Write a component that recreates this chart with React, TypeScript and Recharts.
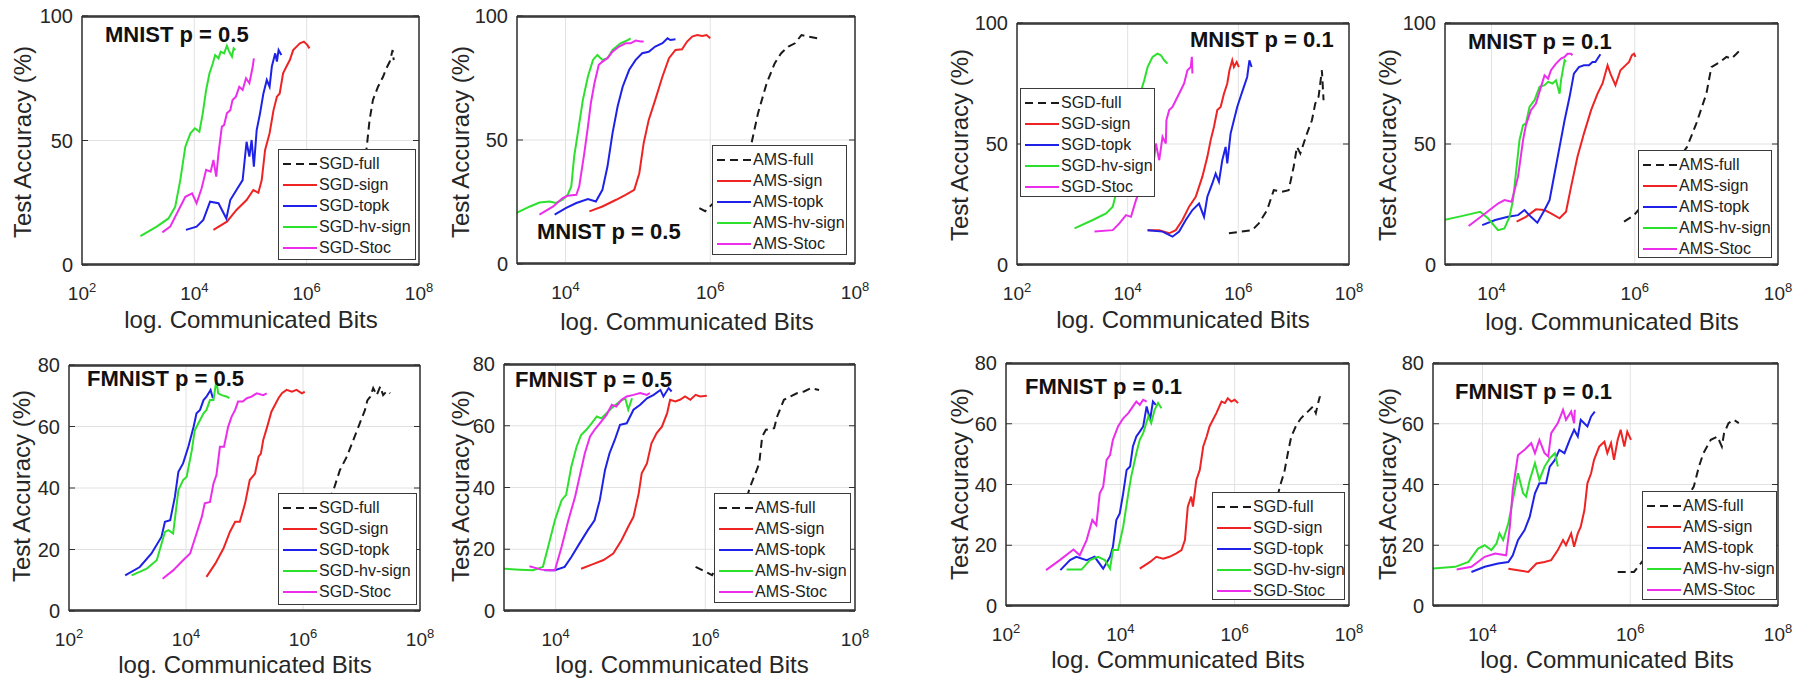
import React from 'react';
import { LineChart, Line, XAxis, YAxis, CartesianGrid, Legend } from 'recharts';

type Pt = [number, number];

// x values are log10(communicated bits), y values are test accuracy (%)

// ---- MNIST p = 0.5, SGD ----
const p1Full: Pt[] = [[7.05,44],[7.07,47.5],[7.12,58.2],[7.18,66.3],[7.27,71.6],[7.36,75.6],[7.42,79.0],[7.48,81.7],[7.53,86.3],[7.55,82.3]];
const p1Sign: Pt[] = [[4.34,14.1],[4.58,17.4],[4.75,22.1],[4.93,26.1],[5.05,30.1],[5.14,29.0],[5.20,34.1],[5.26,46.2],[5.34,52.9],[5.41,62.2],[5.47,67.6],[5.52,68.9],[5.58,77.0],[5.64,79.7],[5.70,82.3],[5.76,86.3],[5.82,87.7],[5.88,89.0],[5.95,89.7],[6.01,88.4],[6.05,87.0]];
const p1Topk: Pt[] = [[3.85,14.1],[4.04,15.4],[4.16,18.1],[4.28,25.4],[4.43,24.8],[4.57,18.7],[4.64,26.1],[4.75,30.1],[4.86,34.1],[4.93,49.5],[4.98,43.5],[5.02,50.2],[5.06,39.5],[5.11,54.2],[5.17,60.9],[5.23,68.9],[5.29,74.3],[5.34,71.6],[5.38,79.7],[5.44,85.0],[5.47,81.7],[5.50,86.3],[5.55,84.3]];
const p1Hv: Pt[] = [[3.04,11.6],[3.33,15.4],[3.54,18.7],[3.66,23.4],[3.75,34.1],[3.84,47.5],[3.93,52.9],[4.01,54.9],[4.09,53.5],[4.15,60.9],[4.21,70.3],[4.27,77.0],[4.33,81.0],[4.37,84.3],[4.43,83.0],[4.47,85.7],[4.53,85.0],[4.58,88.0],[4.62,85.7],[4.67,83.7],[4.70,87.0],[4.73,86.3]];
const p1Stoc: Pt[] = [[3.43,13.1],[3.57,15.4],[3.72,22.1],[3.84,27.4],[3.96,28.8],[4.04,24.8],[4.13,30.8],[4.21,38.2],[4.29,37.5],[4.34,42.2],[4.39,35.5],[4.43,44.8],[4.49,55.6],[4.53,56.2],[4.58,60.9],[4.64,62.2],[4.68,66.3],[4.74,67.6],[4.80,71.6],[4.86,70.3],[4.92,75.0],[4.98,73.0],[5.04,79.7],[5.06,83.0]];

// ---- MNIST p = 0.5, AMS ----
const p2Full: Pt[] = [[5.85,22.5],[5.93,21.3],[6.3,32],[6.57,48.7],[6.66,60.8],[6.78,72.9],[6.89,80.9],[6.98,85.0],[7.08,87.7],[7.17,89.0],[7.26,92.3],[7.35,91.7],[7.49,91.0]];
const p2Sign: Pt[] = [[4.33,21.2],[4.51,23.2],[4.70,25.9],[4.83,27.9],[4.95,29.9],[5.02,36.6],[5.08,48.7],[5.15,58.1],[5.24,66.2],[5.34,75.6],[5.43,83.0],[5.52,86.3],[5.61,86.6],[5.68,89.7],[5.75,91.7],[5.82,92.3],[5.89,91.9],[5.95,92.3],[6.00,91.0]];
const p2Topk: Pt[] = [[3.85,19.9],[4.01,22.6],[4.15,24.6],[4.31,26.2],[4.42,25.2],[4.51,29.9],[4.58,39.3],[4.65,52.8],[4.72,63.5],[4.79,71.5],[4.88,78.3],[4.97,82.3],[5.06,85.0],[5.15,85.6],[5.24,87.7],[5.34,89.0],[5.41,91.0],[5.45,90.3],[5.52,90.6]];
const p2Hv: Pt[] = [[3.30,20.3],[3.51,23.2],[3.64,24.8],[3.78,25.2],[3.87,24.6],[3.96,25.9],[4.03,27.9],[4.08,31.3],[4.12,43.4],[4.17,52.8],[4.24,66.2],[4.31,75.6],[4.38,82.3],[4.44,84.3],[4.51,82.3],[4.58,83.0],[4.65,86.3],[4.76,89.0],[4.86,90.3],[4.90,91.0]];
const p2Stoc: Pt[] = [[3.64,19.9],[3.83,23.2],[3.96,26.6],[4.03,27.5],[4.15,27.9],[4.19,31.3],[4.26,44.7],[4.31,55.4],[4.35,64.8],[4.40,72.9],[4.46,80.3],[4.51,81.6],[4.58,83.0],[4.65,85.6],[4.74,87.7],[4.83,89.0],[4.90,89.0],[4.97,90.1],[5.04,89.7],[5.08,89.7]];

// ---- MNIST p = 0.1, SGD ----
const p3Full: Pt[] = [[5.83,13.1],[6.25,14.4],[6.37,17.2],[6.52,22.7],[6.64,30.9],[6.79,30.3],[6.91,30.9],[7.00,40.6],[7.06,48.8],[7.12,46.1],[7.18,50.2],[7.24,54.3],[7.33,59.8],[7.39,66.7],[7.45,69.5],[7.48,75.0],[7.51,80.5],[7.54,68.1]];
const p3Sign: Pt[] = [[4.36,14.4],[4.57,14.4],[4.75,13.1],[4.87,14.4],[4.99,18.6],[5.11,24.1],[5.23,28.2],[5.35,36.5],[5.44,44.7],[5.50,51.6],[5.56,57.1],[5.62,64.0],[5.68,65.3],[5.74,70.8],[5.80,75.0],[5.84,80.5],[5.89,84.6],[5.92,81.8],[5.97,83.9],[6.01,81.8]];
const p3Topk: Pt[] = [[4.36,14.4],[4.63,13.8],[4.81,11.7],[4.93,13.8],[5.05,18.6],[5.17,22.7],[5.29,25.4],[5.38,19.9],[5.44,28.2],[5.53,33.7],[5.59,37.8],[5.65,34.4],[5.71,43.3],[5.77,48.8],[5.80,42.0],[5.86,54.3],[5.92,59.8],[5.98,65.3],[6.04,69.5],[6.10,73.6],[6.16,77.7],[6.20,84.6],[6.24,81.8]];
const p3Hv: Pt[] = [[3.04,15.1],[3.37,18.6],[3.61,21.3],[3.73,24.1],[3.79,29.6],[3.91,40.6],[4.03,54.3],[4.15,65.3],[4.30,76.3],[4.36,81.8],[4.45,86.0],[4.54,87.3],[4.60,86.7],[4.66,84.6],[4.72,83.2]];
const p3Stoc: Pt[] = [[3.40,13.8],[3.73,14.4],[3.85,17.2],[3.97,20.6],[4.06,19.9],[4.15,26.8],[4.24,32.3],[4.33,35.1],[4.40,44.7],[4.46,40.6],[4.51,50.2],[4.57,43.3],[4.63,53.0],[4.69,50.2],[4.70,59.8],[4.75,64.0],[4.81,65.3],[4.87,68.1],[4.96,72.2],[5.02,75.0],[5.08,80.5],[5.14,81.8],[5.16,86.0],[5.17,79.1]];

// ---- MNIST p = 0.1, AMS ----
const p4Full: Pt[] = [[5.85,17.9],[5.99,20.6],[6.4,35],[6.73,48.8],[6.86,58.5],[7.00,70.8],[7.07,81.8],[7.19,83.9],[7.28,86.0],[7.35,85.3],[7.42,87.3],[7.49,89.4]];
const p4Sign: Pt[] = [[4.35,17.9],[4.48,19.9],[4.62,23.0],[4.74,22.7],[4.83,21.3],[4.95,19.3],[5.04,22.0],[5.11,32.3],[5.20,44.7],[5.29,54.3],[5.39,64.0],[5.48,70.8],[5.55,75.0],[5.62,82.5],[5.66,79.1],[5.73,74.3],[5.80,80.5],[5.87,82.5],[5.92,83.9],[5.96,86.7],[5.99,87.3],[6.01,86.0]];
const p4Topk: Pt[] = [[3.87,16.5],[4.05,18.6],[4.23,19.9],[4.37,20.6],[4.46,22.7],[4.55,19.9],[4.64,17.5],[4.74,22.7],[4.81,26.8],[4.88,37.8],[4.95,48.8],[5.02,59.8],[5.09,69.5],[5.15,79.1],[5.22,81.8],[5.29,82.5],[5.36,82.5],[5.41,83.9],[5.45,83.9],[5.52,87.1]];
const p4Hv: Pt[] = [[3.30,18.4],[3.58,20.2],[3.84,22.0],[3.95,19.3],[4.09,14.4],[4.18,15.1],[4.25,19.9],[4.30,26.8],[4.35,40.6],[4.39,51.6],[4.44,57.8],[4.48,58.5],[4.53,65.3],[4.60,68.1],[4.67,73.6],[4.74,74.3],[4.79,75.7],[4.85,75.0],[4.90,76.3],[4.95,70.8],[4.97,76.3],[5.02,84.6],[5.04,83.9]];
const p4Stoc: Pt[] = [[3.68,16.1],[3.91,21.3],[4.09,25.4],[4.18,26.8],[4.28,26.1],[4.37,36.5],[4.44,51.6],[4.48,57.8],[4.55,64.0],[4.62,66.7],[4.69,73.6],[4.74,78.4],[4.79,77.0],[4.83,80.5],[4.90,83.2],[4.97,85.3],[5.02,86.0],[5.06,87.3],[5.11,87.3],[5.13,86.7]];

// ---- FMNIST p = 0.5, SGD ----
const p5Full: Pt[] = [[6.45,36],[6.52,39.3],[6.63,45.8],[6.75,50.2],[6.86,55.6],[6.97,61.0],[7.06,65.4],[7.10,68.5],[7.15,69.7],[7.20,72.5],[7.26,70.2],[7.32,73.0],[7.37,70.2],[7.43,71.5],[7.49,70.8]];
const p5Sign: Pt[] = [[4.35,11.1],[4.50,15.4],[4.64,20.3],[4.75,25.7],[4.84,29.0],[4.92,29.0],[5.01,35.0],[5.09,42.6],[5.18,44.7],[5.24,50.2],[5.28,51.2],[5.32,55.6],[5.38,59.4],[5.46,64.8],[5.52,67.0],[5.58,69.2],[5.64,70.8],[5.72,71.9],[5.81,71.3],[5.89,71.9],[5.98,70.8],[6.03,71.3]];
const p5Topk: Pt[] = [[2.96,11.6],[3.21,14.3],[3.41,18.7],[3.58,24.1],[3.64,29.0],[3.73,29.5],[3.81,37.1],[3.87,45.3],[3.95,48.0],[4.04,53.4],[4.13,59.9],[4.18,64.3],[4.24,65.4],[4.30,68.6],[4.35,69.7],[4.42,71.9],[4.46,69.2]];
const p5Hv: Pt[] = [[3.07,11.6],[3.33,13.8],[3.50,16.5],[3.64,25.7],[3.70,26.3],[3.78,25.2],[3.87,39.3],[3.95,42.6],[4.01,43.6],[4.10,52.3],[4.15,58.8],[4.21,61.0],[4.30,64.3],[4.35,65.4],[4.41,68.6],[4.47,68.6],[4.52,75.1],[4.55,70.8],[4.61,70.2],[4.70,69.7],[4.74,69.2]];
const p5Stoc: Pt[] = [[3.60,10.5],[3.78,13.2],[3.95,16.5],[4.07,18.7],[4.18,25.2],[4.27,30.6],[4.32,35.0],[4.41,35.5],[4.47,41.5],[4.52,44.2],[4.58,53.4],[4.65,53.4],[4.72,59.9],[4.78,63.2],[4.84,65.4],[4.89,68.1],[4.97,68.1],[5.04,69.2],[5.12,69.7],[5.21,70.8],[5.32,70.2],[5.38,70.8]];

// ---- FMNIST p = 0.5, AMS ----
const p6Full: Pt[] = [[5.87,14.3],[6.09,11.6],[6.4,25],[6.60,40.3],[6.67,44.6],[6.72,47.8],[6.76,56.5],[6.81,58.7],[6.92,59.2],[6.96,63.0],[7.05,68.4],[7.14,69.5],[7.23,70.6],[7.32,71.1],[7.41,72.2],[7.52,71.6]];
const p6Sign: Pt[] = [[4.34,13.7],[4.50,15.2],[4.64,16.5],[4.77,18.6],[4.88,22.9],[4.97,27.3],[5.04,30.5],[5.11,38.1],[5.15,44.6],[5.22,47.8],[5.28,54.3],[5.35,57.6],[5.42,59.7],[5.49,64.1],[5.53,68.4],[5.60,67.9],[5.66,68.4],[5.73,69.5],[5.80,68.4],[5.87,70.0],[5.93,69.5],[6.02,69.7]];
const p6Topk: Pt[] = [[3.85,13.2],[3.99,13.2],[4.12,14.3],[4.21,17.5],[4.32,21.9],[4.43,26.2],[4.52,29.4],[4.59,35.9],[4.66,45.7],[4.72,51.1],[4.79,55.4],[4.86,60.3],[4.95,60.8],[5.04,65.2],[5.13,66.8],[5.22,68.9],[5.31,70.0],[5.40,71.6],[5.44,69.5],[5.51,72.2],[5.55,71.1]];
const p6Hv: Pt[] = [[3.30,13.7],[3.52,13.4],[3.70,13.2],[3.83,14.3],[3.90,20.8],[3.99,29.4],[4.08,35.9],[4.14,37.6],[4.21,46.8],[4.28,53.2],[4.34,57.0],[4.41,58.7],[4.48,60.8],[4.55,63.0],[4.61,62.4],[4.68,64.1],[4.77,66.2],[4.86,67.9],[4.93,68.9],[4.97,65.2],[5.02,68.9]];
const p6Stoc: Pt[] = [[3.65,14.5],[3.81,13.4],[3.92,13.2],[3.99,13.2],[4.08,20.8],[4.17,29.4],[4.26,37.0],[4.32,43.5],[4.39,51.1],[4.46,56.5],[4.52,58.7],[4.59,60.8],[4.68,63.5],[4.75,66.8],[4.81,66.2],[4.88,68.4],[4.95,69.5],[5.04,70.0],[5.13,70.6],[5.22,70.0],[5.26,70.6]];

// ---- FMNIST p = 0.1, SGD ----
const p7Full: Pt[] = [[6.75,36],[6.79,39.3],[6.87,44.2],[6.93,50.3],[6.99,55.8],[7.08,59.6],[7.16,61.8],[7.28,64.0],[7.37,65.7],[7.42,63.5],[7.46,66.8],[7.49,69.0],[7.51,67.3]];
const p7Sign: Pt[] = [[4.34,12.3],[4.52,14.5],[4.63,16.2],[4.75,15.6],[4.86,16.2],[4.98,17.3],[5.07,18.4],[5.13,21.7],[5.18,32.7],[5.24,36.0],[5.27,32.7],[5.33,41.5],[5.39,44.8],[5.45,52.5],[5.51,55.8],[5.56,59.1],[5.62,61.3],[5.68,63.5],[5.77,67.3],[5.83,66.8],[5.88,68.4],[5.94,67.3],[6.00,67.9],[6.06,66.8]];
const p7Topk: Pt[] = [[2.95,11.8],[3.12,15.1],[3.23,16.2],[3.41,15.1],[3.55,16.2],[3.70,12.3],[3.82,16.2],[3.87,19.5],[3.93,28.3],[3.99,30.5],[4.05,37.1],[4.11,44.8],[4.17,45.9],[4.22,52.5],[4.28,55.8],[4.34,57.4],[4.40,59.1],[4.46,65.7],[4.52,61.3],[4.57,67.3],[4.62,66.2]];
const p7Hv: Pt[] = [[3.06,12.0],[3.32,12.0],[3.47,15.1],[3.61,16.2],[3.73,15.1],[3.82,12.3],[3.87,18.4],[3.96,18.4],[4.05,26.1],[4.14,37.1],[4.19,42.6],[4.28,50.3],[4.34,54.7],[4.40,56.9],[4.49,62.4],[4.54,60.2],[4.60,64.6],[4.66,66.8],[4.72,65.1]];
const p7Stoc: Pt[] = [[2.70,11.8],[2.94,15.1],[3.18,18.6],[3.29,16.7],[3.41,21.7],[3.51,28.3],[3.58,26.6],[3.64,37.1],[3.70,39.3],[3.76,48.1],[3.82,49.7],[3.87,54.7],[3.96,59.1],[4.05,61.8],[4.14,63.5],[4.22,65.7],[4.28,67.3],[4.34,66.2],[4.40,67.9],[4.46,67.3]];

// ---- FMNIST p = 0.1, AMS ----
const p8Full: Pt[] = [[5.83,11.2],[6.05,11.2],[6.5,25],[6.86,39.3],[6.93,45.9],[6.99,50.3],[7.09,54.7],[7.18,55.8],[7.24,52.5],[7.27,56.9],[7.33,60.2],[7.40,61.3],[7.47,60.2]];
const p8Sign: Pt[] = [[4.35,12.3],[4.48,11.8],[4.62,11.2],[4.73,14.0],[4.84,14.5],[4.93,15.1],[5.02,18.4],[5.09,21.7],[5.13,20.0],[5.20,23.9],[5.24,19.5],[5.29,23.9],[5.33,26.1],[5.38,31.6],[5.42,40.4],[5.47,43.7],[5.51,48.1],[5.58,52.5],[5.65,54.1],[5.69,50.3],[5.74,53.6],[5.78,48.1],[5.83,54.7],[5.87,58.0],[5.92,52.5],[5.96,57.4],[6.01,54.7]];
const p8Topk: Pt[] = [[3.85,11.2],[4.03,12.9],[4.21,14.0],[4.35,14.5],[4.41,16.7],[4.48,21.7],[4.57,25.0],[4.64,29.4],[4.71,37.1],[4.77,40.4],[4.86,40.4],[4.91,45.9],[4.98,48.1],[5.04,51.4],[5.11,50.3],[5.18,54.7],[5.24,58.0],[5.29,55.8],[5.33,61.3],[5.42,59.1],[5.47,62.4],[5.52,64.0]];
const p8Hv: Pt[] = [[3.30,12.3],[3.63,12.9],[3.81,14.5],[3.94,18.9],[4.03,20.0],[4.12,18.4],[4.19,20.6],[4.23,23.9],[4.28,21.7],[4.35,27.2],[4.41,34.9],[4.48,43.7],[4.55,37.1],[4.59,36.0],[4.64,41.5],[4.71,47.0],[4.77,41.5],[4.84,45.9],[4.91,48.6],[4.98,50.3],[5.02,45.9]];
const p8Stoc: Pt[] = [[3.65,12.0],[3.85,12.9],[4.03,16.2],[4.17,17.3],[4.32,16.7],[4.37,26.1],[4.41,38.2],[4.48,49.7],[4.57,51.4],[4.66,53.6],[4.71,50.3],[4.77,54.7],[4.84,50.3],[4.89,49.2],[4.93,56.9],[5.02,60.2],[5.09,64.6],[5.13,61.3],[5.20,64.0],[5.24,60.2],[5.25,64.6]];

const sgdNames = ['SGD-full', 'SGD-sign', 'SGD-topk', 'SGD-hv-sign', 'SGD-Stoc'];
const amsNames = ['AMS-full', 'AMS-sign', 'AMS-topk', 'AMS-hv-sign', 'AMS-Stoc'];
const xMajorTicks = [2, 4, 6, 8];
const mnistYTicks = [0, 50, 100];
const fmnistYTicks = [0, 20, 40, 60, 80];

const COLORS = ['#1a1a1a', '#ee2424', '#1e22e6', '#2ee02e', '#ec2eec'];
const DASHES: (string | undefined)[] = ['8 5', undefined, undefined, undefined, undefined];
const FONT = '"Liberation Sans", Arial, Helvetica, sans-serif';
const TEXT = '#262626';
const AX = '#303030';

function minorTicks(xMin: number): number[] {
  const out: number[] = [];
  for (let k = 2; k < 8; k++) {
    for (let m = 2; m <= 9; m++) {
      const v = k + Math.log10(m);
      if (v >= xMin) out.push(v);
    }
  }
  return out;
}

const EmptyTick = () => <g />;

function LegendBox({ names }: { names: string[] }) {
  return (
    <div
      style={{
        boxSizing: 'border-box',
        width: '100%',
        height: '100%',
        background: '#fff',
        border: '1.5px solid #3a3a3a',
        padding: '3px 0 0 3px',
        fontFamily: FONT,
        fontSize: 16,
        color: '#222',
      }}
    >
      {names.map((n, i) => (
        <div key={n} style={{ display: 'flex', alignItems: 'center', height: 21.2, whiteSpace: 'nowrap' }}>
          <svg width={36} height={6} style={{ flex: 'none' }}>
            <line x1={1} y1={3} x2={35} y2={3} stroke={COLORS[i]} strokeWidth={2} strokeDasharray={DASHES[i]} />
          </svg>
          <span style={{ marginLeft: 1 }}>{n}</span>
        </div>
      ))}
    </div>
  );
}

type PanelCfg = {
  L: number; T: number; R: number; B: number;
  xMin: number; yMax: number; yTicks: number[];
  names: string[]; series: Pt[][];
  legend: { x: number; y: number; w: number; h: number };
  title: { text: string; x: number; y: number };
  ylab: { x: number; y: number };
  xlab: { x: number; y: number };
};

const panels: PanelCfg[] = [
  { L: 82, T: 16, R: 419, B: 265, xMin: 2, yMax: 100, yTicks: mnistYTicks, names: sgdNames,
    series: [p1Full, p1Sign, p1Topk, p1Hv, p1Stoc],
    legend: { x: 278, y: 149, w: 138, h: 111 }, title: { text: 'MNIST p = 0.5', x: 105, y: 35 },
    ylab: { x: 23, y: 142 }, xlab: { x: 251, y: 320 } },
  { L: 517, T: 16, R: 855, B: 264, xMin: 3.33, yMax: 100, yTicks: mnistYTicks, names: amsNames,
    series: [p2Full, p2Sign, p2Topk, p2Hv, p2Stoc],
    legend: { x: 712, y: 145, w: 135, h: 110 }, title: { text: 'MNIST p = 0.5', x: 537, y: 232 },
    ylab: { x: 461, y: 142 }, xlab: { x: 687, y: 322 } },
  { L: 1017, T: 23, R: 1349, B: 265, xMin: 2, yMax: 100, yTicks: mnistYTicks, names: sgdNames,
    series: [p3Full, p3Sign, p3Topk, p3Hv, p3Stoc],
    legend: { x: 1020, y: 88, w: 135, h: 109 }, title: { text: 'MNIST p = 0.1', x: 1190, y: 40 },
    ylab: { x: 960, y: 145 }, xlab: { x: 1183, y: 320 } },
  { L: 1445, T: 23, R: 1778, B: 265, xMin: 3.35, yMax: 100, yTicks: mnistYTicks, names: amsNames,
    series: [p4Full, p4Sign, p4Topk, p4Hv, p4Stoc],
    legend: { x: 1638, y: 150, w: 134, h: 108 }, title: { text: 'MNIST p = 0.1', x: 1468, y: 42 },
    ylab: { x: 1388, y: 145 }, xlab: { x: 1612, y: 322 } },
  { L: 69, T: 365, R: 420, B: 611, xMin: 2, yMax: 80, yTicks: fmnistYTicks, names: sgdNames,
    series: [p5Full, p5Sign, p5Topk, p5Hv, p5Stoc],
    legend: { x: 278, y: 493, w: 139, h: 112 }, title: { text: 'FMNIST p = 0.5', x: 87, y: 379 },
    ylab: { x: 22, y: 486 }, xlab: { x: 245, y: 665 } },
  { L: 504, T: 364, R: 855, B: 611, xMin: 3.31, yMax: 80, yTicks: fmnistYTicks, names: amsNames,
    series: [p6Full, p6Sign, p6Topk, p6Hv, p6Stoc],
    legend: { x: 714, y: 493, w: 137, h: 110 }, title: { text: 'FMNIST p = 0.5', x: 515, y: 380 },
    ylab: { x: 461, y: 486 }, xlab: { x: 682, y: 665 } },
  { L: 1006, T: 363, R: 1349, B: 606, xMin: 2, yMax: 80, yTicks: fmnistYTicks, names: sgdNames,
    series: [p7Full, p7Sign, p7Topk, p7Hv, p7Stoc],
    legend: { x: 1212, y: 492, w: 133, h: 108 }, title: { text: 'FMNIST p = 0.1', x: 1025, y: 387 },
    ylab: { x: 960, y: 484 }, xlab: { x: 1178, y: 660 } },
  { L: 1433, T: 363, R: 1778, B: 606, xMin: 3.33, yMax: 80, yTicks: fmnistYTicks, names: amsNames,
    series: [p8Full, p8Sign, p8Topk, p8Hv, p8Stoc],
    legend: { x: 1642, y: 491, w: 135, h: 109 }, title: { text: 'FMNIST p = 0.1', x: 1455, y: 392 },
    ylab: { x: 1388, y: 484 }, xlab: { x: 1607, y: 660 } },
];

function Panel({ cfg }: { cfg: PanelCfg }) {
  const { L, T, R, B, xMin, yMax, yTicks, names, series, legend, title, ylab, xlab } = cfg;
  const pw = R - L;
  const ph = B - T;
  const ML = 60;
  const MT = 10;
  const MR = 30;
  const W = pw + ML + MR;
  const H = ph + MT + 50;
  const left = L - ML;
  const top = T - MT;
  const xDomain: [number, number] = [xMin, 8];
  const yDomain: [number, number] = [0, yMax];
  const majors = xMajorTicks.filter((t) => t >= xMin);
  const minors = minorTicks(xMin);
  const labelY = MT + ph + 35;

  const XTick = (props: any) => {
    const { x, payload } = props;
    return (
      <text x={x} y={labelY} textAnchor="middle" fill={TEXT} fontFamily={FONT} fontSize={19}>
        <tspan>10</tspan>
        <tspan dy={-8} fontSize={13}>{payload.value}</tspan>
      </text>
    );
  };

  const lineData = series.map((pts) => pts.map(([x, y]) => ({ x, y })));
  const axisLine = { stroke: AX, strokeWidth: 1.5 };
  const tickLine = { stroke: AX, strokeWidth: 1 };

  return (
    <>
      <div style={{ position: 'absolute', left, top, width: W, height: H }}>
        <LineChart width={W} height={H} margin={{ top: MT, right: MR, bottom: 0, left: 0 }}>
          <CartesianGrid stroke="#e2e2e2" strokeWidth={1} />
          <XAxis
            type="number" dataKey="x" domain={xDomain} allowDataOverflow ticks={majors} interval={0}
            height={50} axisLine={false} tickLine={false} tick={XTick}
          />
          <YAxis
            type="number" domain={yDomain} allowDataOverflow ticks={yTicks} interval={0} width={ML}
            axisLine={false} tickLine={false} tickSize={6} tickMargin={3}
            tick={{ fontSize: 20, fill: TEXT, fontFamily: FONT }}
          />
          {lineData.map((d, i) => (
            <Line
              key={names[i]}
              name={names[i]}
              data={d}
              dataKey="y"
              type="linear"
              stroke={COLORS[i]}
              strokeWidth={2}
              strokeDasharray={DASHES[i]}
              dot={false}
              activeDot={false}
              isAnimationActive={false}
            />
          ))}
          <XAxis xAxisId="bMin" orientation="bottom" mirror height={1} type="number" domain={xDomain} allowDataOverflow
            ticks={minors} interval={0} tickSize={4} tick={EmptyTick} axisLine={axisLine} tickLine={tickLine} />
          <XAxis xAxisId="bMaj" orientation="bottom" mirror height={1} type="number" domain={xDomain} allowDataOverflow
            ticks={majors} interval={0} tickSize={7} tick={EmptyTick} axisLine={axisLine} tickLine={tickLine} />
          <XAxis xAxisId="tMin" orientation="top" mirror height={1} type="number" domain={xDomain} allowDataOverflow
            ticks={minors} interval={0} tickSize={4} tick={EmptyTick} axisLine={axisLine} tickLine={tickLine} />
          <XAxis xAxisId="tMaj" orientation="top" mirror height={1} type="number" domain={xDomain} allowDataOverflow
            ticks={majors} interval={0} tickSize={7} tick={EmptyTick} axisLine={axisLine} tickLine={tickLine} />
          <YAxis yAxisId="yl" orientation="left" mirror width={1} type="number" domain={yDomain} allowDataOverflow
            ticks={yTicks} interval={0} tickSize={6} tick={EmptyTick} axisLine={axisLine} tickLine={tickLine} />
          <YAxis yAxisId="yr" orientation="right" mirror width={1} type="number" domain={yDomain} allowDataOverflow
            ticks={yTicks} interval={0} tickSize={6} tick={EmptyTick} axisLine={axisLine} tickLine={tickLine} />
          <Legend
            layout="vertical"
            align="center"
            verticalAlign="middle"
            content={() => <LegendBox names={names} />}
            wrapperStyle={{
              position: 'absolute',
              left: legend.x - left,
              top: legend.y - top,
              width: legend.w,
              height: legend.h,
              right: 'auto',
              bottom: 'auto',
              margin: 0,
            }}
          />
        </LineChart>
      </div>
      <div
        style={{
          position: 'absolute', left: title.x, top: title.y, transform: 'translateY(-50%)',
          fontFamily: FONT, fontWeight: 'bold', fontSize: 22, color: '#111', whiteSpace: 'nowrap', lineHeight: 1,
        }}
      >
        {title.text}
      </div>
      <div
        style={{
          position: 'absolute', left: ylab.x, top: ylab.y, transform: 'translate(-50%, -50%) rotate(-90deg)',
          fontFamily: FONT, fontSize: 24, color: TEXT, whiteSpace: 'nowrap', lineHeight: 1,
        }}
      >
        Test Accuracy (%)
      </div>
      <div
        style={{
          position: 'absolute', left: xlab.x, top: xlab.y, transform: 'translate(-50%, -50%)',
          fontFamily: FONT, fontSize: 24, color: TEXT, whiteSpace: 'nowrap', lineHeight: 1,
        }}
      >
        log. Communicated Bits
      </div>
    </>
  );
}

export default function App() {
  return (
    <div style={{ position: 'absolute', left: 0, top: 0, width: 1795, height: 680, background: '#fff', overflow: 'hidden' }}>
      {panels.map((p, i) => (
        <Panel key={i} cfg={p} />
      ))}
    </div>
  );
}
